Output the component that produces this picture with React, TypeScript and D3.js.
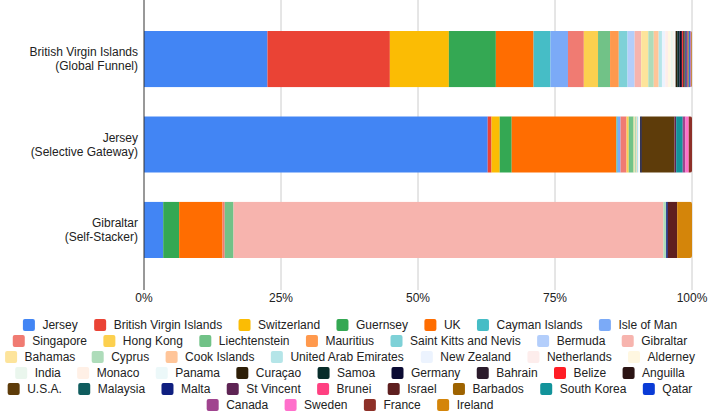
import React, { useMemo } from "react";
import * as d3 from "d3";

const W = 709;
const H = 414;
const FONT = "'Liberation Sans', Arial, Helvetica, sans-serif";

// bars
const barNames = ["British Virgin Islands", "Jersey", "Gibraltar"];
const barRoles = ["(Global Funnel)", "(Selective Gateway)", "(Self-Stacker)"];

// jurisdictions (legend order = stacking order)
const countries = [
  "Jersey", "British Virgin Islands", "Switzerland", "Guernsey", "UK", "Cayman Islands", "Isle of Man",
  "Singapore", "Hong Kong", "Liechtenstein", "Mauritius", "Saint Kitts and Nevis", "Bermuda", "Gibraltar",
  "Bahamas", "Cyprus", "Cook Islands", "United Arab Emirates", "New Zealand", "Netherlands", "Alderney",
  "India", "Monaco", "Panama", "Curaçao", "Samoa", "Germany", "Bahrain", "Belize", "Anguilla",
  "U.S.A.", "Malaysia", "Malta", "St Vincent", "Brunei", "Israel", "Barbados", "South Korea", "Qatar",
  "Canada", "Sweden", "France", "Ireland",
];

const colors = [
  "#4285F4", "#EA4335", "#FBBC04", "#34A853", "#FF6D01", "#46BDC6", "#7BAAF7",
  "#F07B72", "#FCD04F", "#71C287", "#FF994D", "#7ED1D7", "#B3CEFB", "#F7B4AE",
  "#FDE49B", "#AEDCBA", "#FFC599", "#B5E5E8", "#ECF3FE", "#FDEDEC", "#FFF7E1",
  "#EAF6ED", "#FFF0E6", "#ECF8F9", "#2E1F08", "#082D2A", "#0B0B33", "#2B1B2B", "#FF1D25", "#2B1414",
  "#5E3C0A", "#0F5C5E", "#0F1F80", "#5E2454", "#FF4081", "#5E1F1F", "#9E6300", "#12939A", "#0A3BD6",
  "#A0448F", "#FF6FCB", "#8D3028", "#D4850A",
];

// shares in % per bar, same order as countries
const bviShares = [
  22.6, 22.4, 10.8, 8.6, 6.9, 3.1, 3.2,
  2.9, 2.6, 2.2, 1.6, 1.6, 1.3, 1.2,
  1.3, 1.0, 0.9, 0.6, 0.6, 0.5, 0.5,
  0.4, 0.3, 0.2, 0.3, 0.4, 0.3, 0.2, 0.2, 0.2,
  0.1, 0.1, 0.2, 0.1, 0.1, 0.1, 0.1, 0.1, 0.2,
  0.05, 0.05, 0.1, 0.1,
];
const jerseyShares = [
  63.0, 0.7, 1.5, 2.2, 19.2, 0.25, 0.5,
  1.1, 0.4, 0.9, 0, 0, 0, 0,
  0.2, 0.3, 0.1, 0.2, 0.2, 0.1, 0.1,
  0, 0, 0, 0, 0, 0.3, 0, 0, 0,
  6.0, 0, 0, 0.3, 0, 0, 0, 1.2, 0,
  0.5, 0.6, 0.6, 0,
];
const gibraltarShares = [
  3.5, 0, 0, 2.9, 7.9, 0, 0,
  0.4, 0, 1.6, 0, 0, 0, 78.3,
  0, 0.5, 0, 0, 0, 0, 0,
  0, 0, 0, 0, 0, 0, 0, 0, 0,
  0, 0, 0.3, 0, 0, 1.7, 0, 0, 0,
  0, 0, 0, 2.7,
];

const xTicks = [0, 0.25, 0.5, 0.75, 1];

const App = () => {
  const x = d3.scaleLinear().domain([0, 1]).range([144, 692]);
  const y = d3.scaleBand<string>().domain(barNames).range([2, 287]).paddingInner(0.34).paddingOuter(0.34);
  const color = d3.scaleOrdinal<string, string>().domain(countries).range(colors);

  const series = useMemo(() => {
    const all = [bviShares, jerseyShares, gibraltarShares];
    const rows = barNames.map((name, i) => {
      const r: any = { name };
      countries.forEach((c, j) => (r[c] = all[i][j]));
      return r;
    });
    return d3.stack<any>().keys(countries).offset(d3.stackOffsetExpand)(rows);
  }, []);

  // legend: wrap items into centred rows
  const legendRows = useMemo(() => {
    const ctx = document.createElement("canvas").getContext("2d")!;
    ctx.font = `12px ${FONT}`;
    const sw = 12, gap = 7.5, itemGap = 16.4, maxW = 700;
    const rows: { items: { name: string; x: number }[]; width: number }[] = [];
    let cur: { name: string; w: number }[] = [];
    let curW = 0;
    countries.forEach((c) => {
      const w = sw + gap + ctx.measureText(c).width;
      const nw = cur.length ? curW + itemGap + w : w;
      if (nw > maxW && cur.length) {
        rows.push(layoutRow(cur, curW, itemGap));
        cur = [{ name: c, w }];
        curW = w;
      } else {
        cur.push({ name: c, w });
        curW = nw;
      }
    });
    if (cur.length) rows.push(layoutRow(cur, curW, itemGap));
    return rows;
  }, []);

  return (
    <svg width={W} height={H} style={{ position: "absolute", left: 0, top: 0, background: "#fff" }} fontFamily={FONT}>
      <defs>
        {barNames.map((b, i) => (
          <clipPath id={`bar-clip-${i}`} key={b}>
            <rect x={x(0) - 3} y={y(b)} width={x(1) - x(0) + 3} height={y.bandwidth()} rx={2} />
          </clipPath>
        ))}
      </defs>

      {/* grid */}
      {xTicks.slice(1).map((t) => (
        <line key={t} x1={x(t)} x2={x(t)} y1={0} y2={290} stroke="#cccccc" strokeWidth={1} />
      ))}

      {/* bars */}
      {barNames.map((b, i) => (
        <g key={b} clipPath={`url(#bar-clip-${i})`}>
          {series.map((s) => (
            <rect
              key={s.key}
              x={x(s[i][0])}
              y={y(b)}
              width={Math.max(0, x(s[i][1]) - x(s[i][0]))}
              height={y.bandwidth()}
              fill={color(s.key)}
            />
          ))}
        </g>
      ))}

      {/* axis */}
      <line x1={x(0)} x2={x(0)} y1={0} y2={290} stroke="#333" strokeWidth={1} />
      {xTicks.map((t) => (
        <text key={t} x={x(t)} y={302} textAnchor="middle" fontSize={12} fill="#222">
          {d3.format(".0%")(t)}
        </text>
      ))}

      {/* category labels */}
      {barNames.map((b, i) => {
        const cy = (y(b) ?? 0) + y.bandwidth() / 2;
        return (
          <text key={b} x={138} textAnchor="end" fontSize={12} fill="#222">
            <tspan x={138} y={cy - 7 + 4}>{b}</tspan>
            <tspan x={138} y={cy + 7 + 4}>{barRoles[i]}</tspan>
          </text>
        );
      })}

      {/* legend */}
      {legendRows.map((row, ri) => {
        const cy = 325 + ri * 16;
        const x0 = 350 - row.width / 2;
        return (
          <g key={ri}>
            {row.items.map((it) => (
              <g key={it.name} transform={`translate(${x0 + it.x},${cy})`}>
                <rect x={0} y={-6} width={12} height={12} rx={2} fill={color(it.name)} />
                <text x={19.5} y={4.3} fontSize={12} fill="#222">{it.name}</text>
              </g>
            ))}
          </g>
        );
      })}
    </svg>
  );
};

function layoutRow(items: { name: string; w: number }[], width: number, itemGap: number) {
  let cx = 0;
  const out = items.map((it) => {
    const r = { name: it.name, x: cx };
    cx += it.w + itemGap;
    return r;
  });
  return { items: out, width };
}

export default App;
